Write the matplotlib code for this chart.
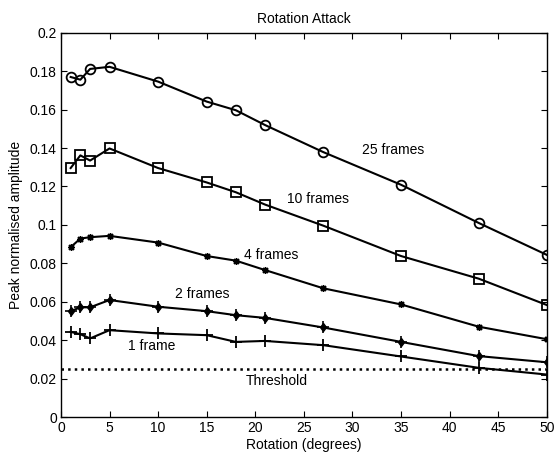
import numpy as np
import matplotlib.pyplot as plt

plt.rcParams['font.family'] = ['Liberation Sans', 'DejaVu Sans']
plt.rcParams['font.size'] = 10

rotation = [1, 2, 3, 5, 10, 15, 18, 21, 27, 35, 43, 50]
frames25 = [0.177, 0.1756, 0.1812, 0.1823, 0.1746, 0.1642, 0.1597, 0.152,
            0.1379, 0.1209, 0.101, 0.0844]
frames10 = [0.1296, 0.1362, 0.1335, 0.1398, 0.1296, 0.1221, 0.117, 0.1106,
            0.0996, 0.0838, 0.072, 0.0583]
frames4 = [0.0884, 0.0929, 0.0936, 0.0943, 0.0908, 0.0838, 0.0814, 0.0765,
           0.067, 0.0586, 0.047, 0.0405]
frames2 = [0.0551, 0.0571, 0.0571, 0.0609, 0.0574, 0.0551, 0.053, 0.0516,
           0.0466, 0.0391, 0.0317, 0.0285]
frames1 = [0.0443, 0.0431, 0.0409, 0.0452, 0.0435, 0.0426, 0.0391, 0.0396,
           0.0374, 0.0315, 0.0256, 0.0221]
threshold = 0.025

fig = plt.figure(figsize=(5.54, 4.59), dpi=100)
ax = fig.add_axes([0.110, 0.0915, 0.877, 0.837])

ax.plot(rotation, frames25, 'k-', marker='o', mfc='none', ms=7, mew=1.3, lw=1.5)
ax.plot(rotation, frames10, 'k-', marker='s', mfc='none', ms=7, mew=1.3, lw=1.5)
ax.plot(rotation, frames4, 'k-', marker=(8, 2, 0), ms=5, mew=1.0, lw=1.5)
ax.plot(rotation, frames2, 'k-', marker='d', mfc='k', ms=4.5, lw=1.5)
ax.plot(rotation, frames2, 'k', ls='none', marker='+', ms=8, mew=1.2)
ax.plot(rotation, frames1, 'k-', marker='+', ms=9, mew=1.3, lw=1.5)
ax.axhline(threshold, color='k', ls=':', lw=1.8)

ax.text(31.0, 0.139, '25 frames', va='center')
ax.text(23.3, 0.1136, '10 frames', va='center')
ax.text(18.8, 0.0843, '4 frames', va='center')
ax.text(11.7, 0.0638, '2 frames', va='center')
ax.text(6.9, 0.037, '1 frame', va='center')
ax.text(19.0, 0.019, 'Threshold', va='center')

ax.set_xlim(0, 50)
ax.set_ylim(0, 0.2)
ax.set_xticks(np.arange(0, 51, 5))
ax.set_yticks(np.arange(0, 0.201, 0.02))
ax.set_yticklabels(['0', '0.02', '0.04', '0.06', '0.08', '0.1', '0.12',
                    '0.14', '0.16', '0.18', '0.2'])
ax.tick_params(direction='in', top=True, right=True, length=4, pad=3)
for s in ax.spines.values():
    s.set_linewidth(1.0)

ax.set_title('Rotation Attack', fontsize=10, pad=7)
ax.set_xlabel('Rotation (degrees)', labelpad=2)
ax.set_ylabel('Peak normalised amplitude', labelpad=5)

fig.savefig('out.png', dpi=100)
